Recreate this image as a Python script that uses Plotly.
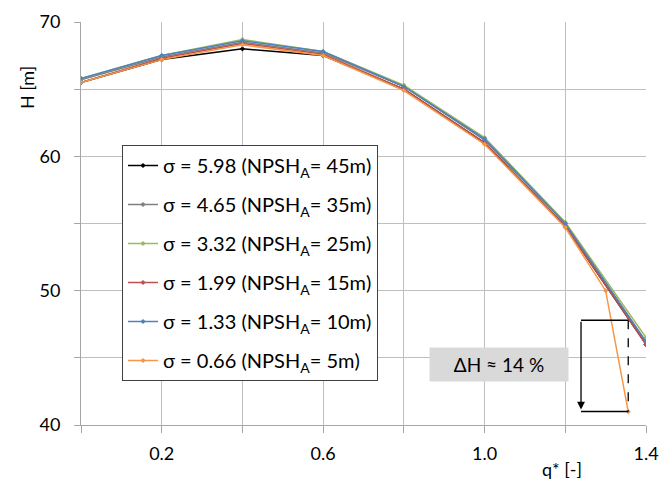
import plotly.graph_objects as go

# ---- data ----
q = [0.0, 0.2, 0.4, 0.6, 0.8, 1.0, 1.2, 1.4]
h_598 = [65.5, 67.2, 68.0, 67.5, 65.0, 61.0, 54.8, 46.0]
h_465 = [65.7, 67.4, 68.5, 67.7, 65.2, 61.2, 55.0, 46.2]
h_332 = [65.8, 67.5, 68.7, 67.8, 65.3, 61.4, 55.1, 46.5]
h_199 = [65.5, 67.3, 68.4, 67.6, 65.0, 61.0, 54.8, 46.0]
h_133 = [65.8, 67.5, 68.6, 67.8, 65.2, 61.3, 55.0, 46.2]
q_066 = [0.0, 0.2, 0.4, 0.6, 0.8, 1.0, 1.2, 1.3, 1.356]
h_066 = [65.5, 67.2, 68.3, 67.5, 64.9, 60.9, 54.7, 50.0, 41.0]

names = [
    "σ = 5.98 (NPSH<sub>A</sub>= 45m)",
    "σ = 4.65 (NPSH<sub>A</sub>= 35m)",
    "σ = 3.32 (NPSH<sub>A</sub>= 25m)",
    "σ = 1.99 (NPSH<sub>A</sub>= 15m)",
    "σ = 1.33 (NPSH<sub>A</sub>= 10m)",
    "σ = 0.66 (NPSH<sub>A</sub>= 5m)",
]
colors = ["#000000", "#7f7f7f", "#9bbb59", "#c0504d", "#4f81bd", "#f79646"]

x_tickvals = [0.2, 0.6, 1.0, 1.4]
x_ticktext = ["0.2", "0.6", "1.0", "1.4"]
y_tickvals = [40, 50, 60, 70]
y_ticktext = ["40", "50", "60", "70"]

# ΔH annotation geometry (data units)
dh_q_left = 1.239
dh_q_right = 1.356
dh_top = 47.8
dh_bottom = 41.0
dh_label = "ΔH ≈ 14 %"
dh_label_q = 1.036
dh_label_h = 44.5

FONT = "Lato"

# page layout (the page body has an 8px margin)
OFF = 8
W, H = 670 - OFF, 485 - OFF
PL, PR, PT, PB = 81, 646, 22, 425     # plot area in page pixels
L, T = PL - OFF, PT - OFF
R = W - (PR - OFF)
B = H - (PB - OFF)
pw, ph = PR - PL, PB - PT


def px_to_paper(x, y):
    return (x - PL) / pw, (PB - y) / ph


fig = go.Figure()
xs = [q, q, q, q, q, q_066]
ys = [h_598, h_465, h_332, h_199, h_133, h_066]
for i, (xv, yv) in enumerate(zip(xs, ys)):
    fig.add_trace(go.Scatter(
        x=xv, y=yv, mode="lines+markers", name=names[i],
        legendgroup=f"g{i}",
        line=dict(color=colors[i], width=1.5),
        marker=dict(color=colors[i], size=4, symbol="diamond"),
    ))

# ΔH construction lines
fig.add_shape(type="line", x0=dh_q_left, x1=dh_q_right, y0=dh_top, y1=dh_top,
              line=dict(color="black", width=1.5))
fig.add_shape(type="line", x0=dh_q_left, x1=dh_q_right, y0=dh_bottom, y1=dh_bottom,
              line=dict(color="black", width=1.5))
fig.add_shape(type="line", x0=dh_q_right, x1=dh_q_right, y0=dh_top, y1=dh_bottom,
              line=dict(color="black", width=1.3, dash="dash"))
fig.add_annotation(x=dh_q_left, y=dh_bottom + 0.15, ax=dh_q_left, ay=dh_top,
                   xref="x", yref="y", axref="x", ayref="y", text="",
                   showarrow=True, arrowhead=2, arrowsize=1.2, arrowwidth=1.3,
                   arrowcolor="black")
fig.add_annotation(x=dh_label_q, y=dh_label_h, xref="x", yref="y", text=dh_label,
                   showarrow=False, bgcolor="#d9d9d9", borderpad=0,
                   width=138, height=33, xanchor="center", yanchor="middle",
                   font=dict(family=FONT, size=19, color="black"))

# axis titles
tx, ty = px_to_paper(27, 88)
fig.add_annotation(x=tx, y=ty, xref="paper", yref="paper", text="H [m]",
                   showarrow=False, textangle=-90, xanchor="center", yanchor="middle",
                   font=dict(family=FONT, size=18, color="black"))
tx, ty = px_to_paper(562, 469)
fig.add_annotation(x=tx, y=ty, xref="paper", yref="paper", text="q* [-]",
                   showarrow=False, xanchor="center", yanchor="middle",
                   font=dict(family=FONT, size=18, color="black"))

GRID = "#bfbfbf"
AXC = "#a6a6a6"
lx, ly = px_to_paper(122, 145)
fig.update_layout(
    width=W, height=H,
    margin=dict(l=L, r=R, t=T, b=B, autoexpand=False),
    paper_bgcolor="white", plot_bgcolor="white",
    font=dict(family=FONT, size=18, color="black"),
    showlegend=True,
    legend=dict(
        x=lx, y=ly, xanchor="left", yanchor="top",
        bgcolor="white", bordercolor="#404040", borderwidth=1,
        font=dict(family=FONT, size=20, color="black"),
        tracegroupgap=10, itemwidth=30,
    ),
    xaxis=dict(
        range=[0, 1.4], tickvals=x_tickvals, ticktext=x_ticktext,
        showgrid=True, gridcolor=GRID, gridwidth=1,
        showline=True, linecolor=AXC, linewidth=1,
        ticks="outside", ticklen=7, tickcolor=AXC,
        minor=dict(tick0=0, dtick=0.2, showgrid=True, gridcolor=GRID, gridwidth=1,
                   ticks="outside", ticklen=7, tickcolor=AXC),
        ticklabelstandoff=5, zeroline=False,
        tickfont=dict(family=FONT, size=18, color="black"),
    ),
    yaxis=dict(
        range=[40, 70], tickvals=y_tickvals, ticktext=y_ticktext,
        showgrid=True, gridcolor=GRID, gridwidth=1,
        showline=True, linecolor=AXC, linewidth=1,
        ticks="outside", ticklen=6, tickcolor=AXC,
        minor=dict(tick0=40, dtick=5, showgrid=True, gridcolor=GRID, gridwidth=1,
                   ticks="outside", ticklen=6, tickcolor=AXC),
        ticklabelstandoff=10, zeroline=False,
        tickfont=dict(family=FONT, size=18, color="black"),
    ),
)

fig.write_html("out.html")
